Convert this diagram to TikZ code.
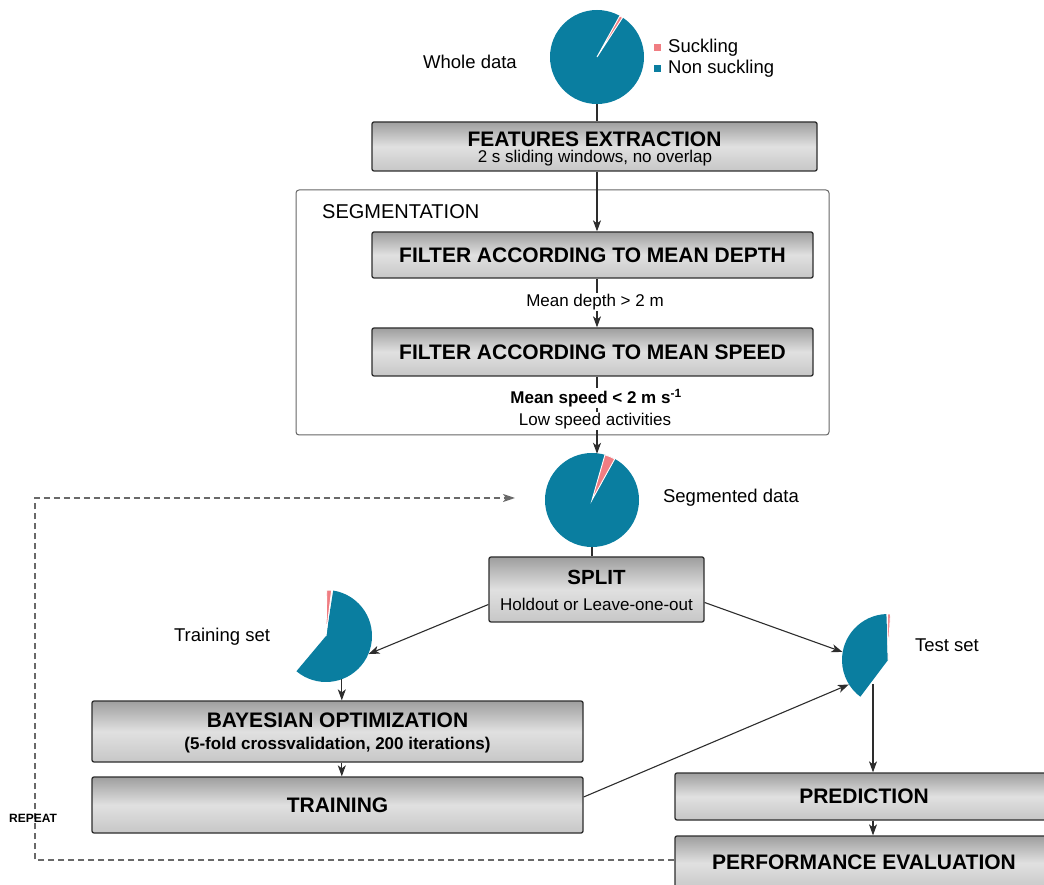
\documentclass[tikz,border=0pt]{standalone}
\usepackage{fontspec}
\setmainfont{Liberation Sans}
\usetikzlibrary{arrows.meta,calc}
\definecolor{pieblue}{RGB}{10,126,160}
\definecolor{piepink}{RGB}{240,125,130}
\definecolor{linec}{RGB}{45,45,45}
\definecolor{dashc}{RGB}{105,105,105}
\begin{document}
\begin{tikzpicture}[x=1pt,y=1pt,
  box/.style={draw=linec, line width=1.3pt, rounded corners=2pt,
    top color=black!38, bottom color=black!22, middle color=black!12, inner sep=0pt},
  frame/.style={draw=black!60, line width=1pt, rounded corners=3pt, fill=white, inner sep=0pt},
  ttl/.style={font=\fontsize{21}{24}\selectfont\bfseries, inner sep=0pt},
  sub/.style={font=\fontsize{17}{20}\selectfont, inner sep=0pt},
  subb/.style={font=\fontsize{17}{20}\selectfont\bfseries, inner sep=0pt},
  lbl/.style={font=\fontsize{18.5}{21}\selectfont, inner sep=0pt},
  onl/.style={fill=white, inner sep=1.5pt},
  pienode/.style={circle, inner sep=0pt, minimum size=#1},
  conn/.style={draw=linec, line width=1.1pt},
  arr/.style={conn, -{Stealth[length=11pt,width=8pt,inset=3pt]}},
  rpt/.style={draw=dashc, line width=1.6pt, dash pattern=on 6pt off 4pt},
  slice/.style={draw=white, line width=0.9pt}
]
\useasboundingbox (0,0) rectangle (1044,884);

% ---------- whole data pie ----------
\node[pienode=94pt, fill=pieblue] (wpie) at (597,827) {};
\filldraw[slice, fill=piepink] (wpie.center) -- ++(57:47) arc (57:61:47) -- cycle;
\node[lbl] (wlab) at (470,822) {Whole data};
\fill[piepink] (653.5,832.5) rectangle ++(7,7);
\fill[pieblue] (653.5,811.5) rectangle ++(7,7);
\node[lbl, anchor=west] (lsuck) at (668,836) {Suckling};
\node[lbl, anchor=west] (lnon) at (668,815) {Non suckling};

% ---------- features extraction ----------
\node[box, minimum width=445pt, minimum height=49pt] (feat) at (594.5,737.5) {};
\node[ttl] (featt) at (594.5,745) {FEATURES EXTRACTION};
\node[sub] (feats) at (595,726) {2 s sliding windows, no overlap};

% ---------- segmentation ----------
\node[frame, minimum width=533pt, minimum height=245pt] (seg) at (562.5,571.5) {};
\node[font=\fontsize{20}{23}\selectfont, inner sep=0pt, anchor=west] (segt) at (322,672) {SEGMENTATION};
\node[box, minimum width=441pt, minimum height=46pt] (depth) at (592.5,629) {};
\node[ttl] (deptht) at (592.5,629) {FILTER ACCORDING TO MEAN DEPTH};
\node[box, minimum width=441pt, minimum height=48pt] (speed) at (592.5,532) {};
\node[ttl] (speedt) at (592.5,532) {FILTER ACCORDING TO MEAN SPEED};

\draw[conn] (wpie.south) -- (wpie.south |- feat.north);
\draw[arr] (feat.south -| wpie.center) -- (depth.north -| wpie.center);
\draw[arr] (depth.south -| wpie.center) -- (speed.north -| wpie.center);
\node[sub, onl] (dlab) at (595,582) {Mean depth > 2 m};

% ---------- segmented data pie ----------
\node[pienode=94pt, fill=pieblue] (spie) at (592,384) {};
\filldraw[slice, fill=piepink] (spie.center) -- ++(61:47) arc (61:74:47) -- cycle;
\node[lbl] (slab) at (731,386) {Segmented data};
\draw[arr] (speed.south -| wpie.center) -- ($(spie.north -| wpie.center)+(0,-1)$);
\node[subb, onl] (vlab) at (596,486) {Mean speed < 2 m s\textsuperscript{-1}};
\node[sub, onl] (vlab2) at (595,463) {Low speed activities};

% ---------- split ----------
\node[box, minimum width=215pt, minimum height=65pt] (split) at (596.5,294.5) {};
\node[font=\fontsize{20.5}{23}\selectfont\bfseries, inner sep=0pt] (splitt) at (596.5,307) {SPLIT};
\node[sub] (splits) at (596.5,280) {Holdout or Leave-one-out};
\draw[conn] (spie.south) -- (spie.south |- split.north);

% ---------- training pie ----------
\node[pienode=92pt] (tpie) at (326,248) {};
\fill[pieblue] (tpie.center) -- ++(-130:46) arc (-130:81:46) -- cycle;
\filldraw[slice, fill=piepink] (tpie.center) -- ++(83:46) arc (83:89:46) -- cycle;
\node[lbl] (tlab) at (222,247) {Training set};

% ---------- test pie ----------
\node[pienode=92pt] (epie) at (888,224) {};
\fill[pieblue] (epie.center) -- ++(92:46) arc (92:233:46) -- cycle;
\filldraw[slice, fill=piepink] (epie.center) -- ++(87:46) arc (87:90.5:46) -- cycle;
\node[lbl] (elab) at (947,239) {Test set};
\coordinate (ebot) at (873,200);

% ---------- bayesian / training ----------
\node[box, minimum width=491pt, minimum height=61pt] (bayes) at (337.5,152.5) {};
\node[ttl] (bayest) at (337.5,164) {BAYESIAN OPTIMIZATION};
\node[subb] (bayess) at (337.5,139) {(5-fold crossvalidation, 200 iterations)};
\node[box, minimum width=491pt, minimum height=56pt] (train) at (337.5,79) {};
\node[ttl] (traint) at (337.5,79) {TRAINING};

% ---------- prediction / performance ----------
\node[box, minimum width=378pt, minimum height=47pt] (pred) at (864,87.5) {};
\node[ttl] (predt) at (864,87.5) {PREDICTION};
\node[box, minimum width=378pt, minimum height=54pt] (perf) at (864,21) {};
\node[ttl] (perft) at (864,22) {PERFORMANCE EVALUATION};

% ---------- connectors ----------
\draw[arr] ($(split.west)+(0,-15)$) -- (tpie.-23);
\draw[arr] ($(split.east)+(0,-13)$) -- (epie.170);
\draw[arr] (tpie.-70) -- (tpie.-70 |- bayes.north);
\draw[arr] (bayes.south -| tpie.-70) -- (train.north -| tpie.-70);
\draw[arr] ($(train.east)+(0,8)$) -- (epie.212);
\draw[arr] (ebot) -- (ebot |- pred.north);
\draw[arr] (pred.south -| ebot) -- (perf.north -| ebot);

% ---------- repeat loop ----------
\coordinate (rA) at (35,24);
\coordinate (rB) at (35,386);
\coordinate (rC) at (515,386);
\draw[rpt, -{Stealth[length=12pt,width=8pt,inset=3pt]}, shorten <=0pt] (perf.west |- rA) -- (rA) -- (rB) -- (rC);
\node[font=\fontsize{12}{14}\selectfont\bfseries, inner sep=0pt] (rlab) at (33,66) {REPEAT};
\end{tikzpicture}
\end{document}
